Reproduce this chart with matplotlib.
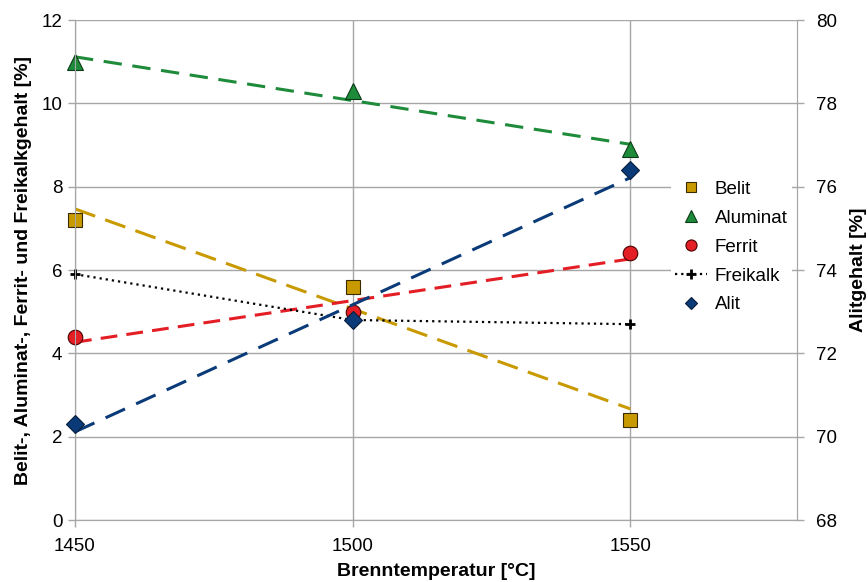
import numpy as np
import matplotlib
matplotlib.use("Agg")
import matplotlib.pyplot as plt
from matplotlib.lines import Line2D

plt.rcParams['font.family'] = ['Liberation Sans', 'DejaVu Sans']

# data
temps = [1450, 1500, 1550]
belit = [7.2, 5.6, 2.4]
aluminat = [11.0, 10.3, 8.9]
ferrit = [4.4, 5.0, 6.4]
freikalk = [5.9, 4.8, 4.7]
alit = [70.3, 72.8, 76.4]

c_belit = '#C89A00'
c_alum = '#1E8B3A'
c_ferrit = '#E41E25'
c_frei = 'black'
c_alit = '#0A3B78'
grid_c = '#A6A6A6'

fig = plt.figure(figsize=(8.68, 5.82), dpi=100)
ax = fig.add_axes([0.0864, 0.1065, 0.8318, 0.8591])
ax2 = ax.twinx()

t = np.array(temps, dtype=float)
tt = np.array([temps[0], temps[-1]], dtype=float)


def trend(ax_, y, color, dashes):
    k, d = np.polyfit(t, y, 1)
    ax_.plot(tt, k * tt + d, color=color, lw=2.2, dashes=dashes, zorder=3)


trend(ax, belit, c_belit, (7, 3.5))
trend(ax, aluminat, c_alum, (6, 3.5))
trend(ax, ferrit, c_ferrit, (5.5, 3))
ax.plot(temps, freikalk, color=c_frei, lw=1.6, ls=(0, (1, 1.8)), zorder=3)
trend(ax2, alit, c_alit, (7, 4))

ms = 10
mk = dict(mew=0.8, zorder=5, clip_on=False)
ax.plot(temps, belit, 's', color=c_belit, mec='#3a2a00', ms=ms - 0.5, **mk)
ax.plot(temps, aluminat, '^', color=c_alum, mec='#0b3a16', ms=ms + 1, **mk)
ax.plot(temps, ferrit, 'o', color=c_ferrit, mec='#4a0000', ms=ms + 0.5, **mk)
ax.plot(temps, freikalk, '+', color=c_frei, ms=7, zorder=5, clip_on=False, mew=2)
ax2.plot(temps, alit, 'D', color=c_alit, mec='#061c3a', ms=ms - 1, **mk)

ax.set_xlim(1450, 1580)
ax.set_ylim(0, 12)
ax2.set_ylim(68, 80)
ax.set_xticks([1450, 1500, 1550])
ax.set_yticks(range(0, 13, 2))
ax2.set_yticks(range(68, 81, 2))

ax.grid(True, color=grid_c, lw=1)
ax.set_axisbelow(True)
for a in (ax, ax2):
    for s in a.spines.values():
        s.set_color(grid_c)
    a.spines['top'].set_visible(False)
    a.tick_params(colors=grid_c, labelcolor='black', labelsize=13.5, length=5, width=1)
ax.tick_params(axis='x', pad=8)
ax.tick_params(axis='y', pad=4)
ax2.tick_params(axis='y', pad=9)

ax.set_xlabel('Brenntemperatur [°C]', fontsize=14, fontweight='bold', labelpad=5.5)
ax.set_ylabel('Belit-, Aluminat-, Ferrit- und Freikalkgehalt [%]',
              fontsize=14, fontweight='bold', labelpad=7)
ax2.set_ylabel('Alitgehalt [%]', fontsize=14, fontweight='bold', labelpad=9)

handles = [
    Line2D([], [], ls='none', marker='s', color=c_belit, mec='#3a2a00', mew=0.8, ms=7),
    Line2D([], [], ls='none', marker='^', color=c_alum, mec='#0b3a16', mew=0.8, ms=8),
    Line2D([], [], ls='none', marker='o', color=c_ferrit, mec='#4a0000', mew=0.8, ms=8),
    Line2D([], [], ls=(0, (1, 1.8)), lw=1.6, marker='+', color=c_frei, mew=2, ms=7),
    Line2D([], [], ls='none', marker='D', color=c_alit, mec='#061c3a', mew=0.8, ms=6.5),
]
labels = ['Belit', 'Aluminat', 'Ferrit', 'Freikalk', 'Alit']
leg = ax2.legend(handles, labels, loc='center left', bbox_to_anchor=(0.825, 0.546),
                 frameon=True, fontsize=13.5, handlelength=1.7, labelspacing=0.63,
                 borderpad=0.25, handletextpad=0.4, borderaxespad=0)
leg.get_frame().set_facecolor('white')
leg.get_frame().set_edgecolor('none')
leg.get_frame().set_alpha(1)

fig.savefig('out.png', dpi=100)
